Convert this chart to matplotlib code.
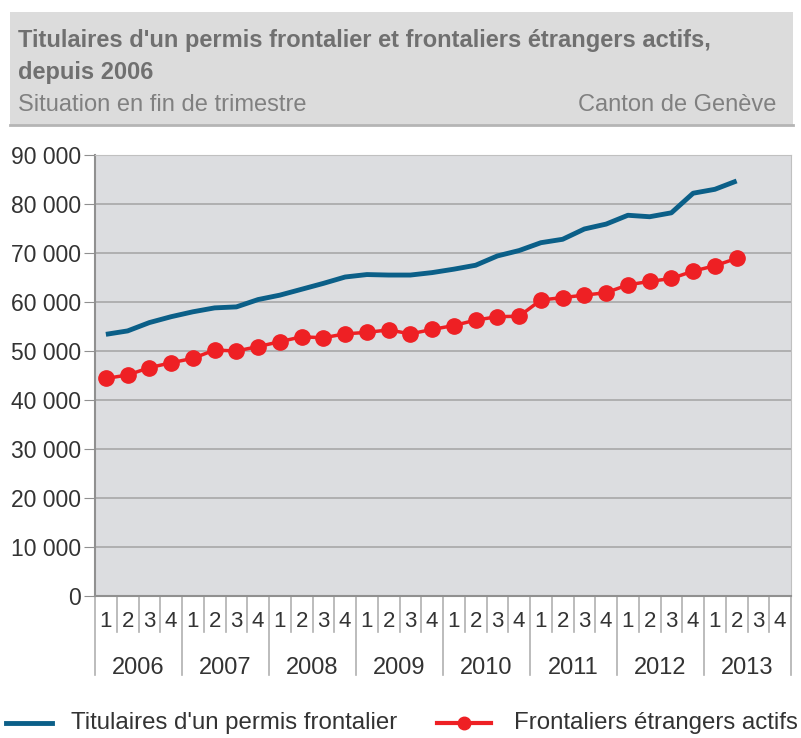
import matplotlib.pyplot as plt
from matplotlib.patches import Rectangle
from matplotlib.lines import Line2D
from matplotlib.transforms import blended_transform_factory

plt.rcParams['font.family'] = ['Liberation Sans', 'DejaVu Sans']

# données
years = ['2006', '2007', '2008', '2009', '2010', '2011', '2012', '2013']
quarters = ['1', '2', '3', '4']

# titulaires d'un permis frontalier (fin de trimestre, 2006 T1 -> 2013 T2)
titulaires = [53400, 54100, 55800, 57000, 58000, 58800, 59000, 60500,
              61400, 62600, 63800, 65100, 65600, 65500, 65500, 66000,
              66700, 67500, 69400, 70500, 72100, 72800, 74900, 75900,
              77700, 77400, 78200, 82200, 83000, 84700]

# frontaliers étrangers actifs
actifs = [44400, 45100, 46600, 47600, 48500, 50200, 50000, 50900,
          51900, 52900, 52700, 53500, 53800, 54300, 53500, 54400,
          55200, 56300, 57000, 57100, 60400, 60900, 61400, 61900,
          63500, 64200, 64800, 66300, 67400, 68900]

blue = '#0b5f88'
red = '#ee2024'
bg = '#dcdde0'

fig = plt.figure(figsize=(8.01, 7.38), dpi=100)

# bandeau titre
fig.patches.append(Rectangle((10/801, 1 - 125/738), 783/801, 113/738,
                             transform=fig.transFigure, facecolor='#dcdcdc',
                             edgecolor='none', zorder=0))
fig.lines.append(Line2D([10/801, 793/801], [1 - 125/738, 1 - 125/738],
                        transform=fig.transFigure, color='#b5b5b5', lw=2))
fig.text(18/801, 1 - 40/738, "Titulaires d'un permis frontalier et frontaliers étrangers actifs,",
         fontsize=17, fontweight='bold', color='#707070', va='center')
fig.text(18/801, 1 - 72/738, "depuis 2006", fontsize=17, fontweight='bold',
         color='#707070', va='center')
fig.text(18/801, 1 - 105/738, "Situation en fin de trimestre", fontsize=17,
         color='#808080', va='center')
fig.text(776/801, 1 - 105/738, "Canton de Genève", fontsize=17,
         color='#808080', va='center', ha='right')

ax = fig.add_axes([95/801, 1 - 596/738, 696/801, 441/738])
ax.set_facecolor(bg)

x = list(range(1, len(titulaires) + 1))
ax.plot(x, titulaires, color=blue, lw=3.5, solid_capstyle='butt', zorder=3)
ax.plot(x, actifs, color=red, lw=2.5, marker='o', markersize=11, zorder=3)

ax.set_xlim(0.5, 32.5)
ax.set_ylim(0, 90000)
ax.set_yticks(range(0, 90001, 10000))
ax.set_yticklabels(['0' if v == 0 else f'{v // 1000} 000' for v in range(0, 90001, 10000)],
                   fontsize=16.5, color='#333333')
ax.yaxis.grid(True, color='#a8a8a8', lw=1.2)
ax.set_axisbelow(True)
ax.tick_params(axis='y', length=8, color='#909090', pad=2)
ax.set_xticks([])

for s in ['top', 'right']:
    ax.spines[s].set_color('#c0c0c0')
for s in ['left', 'bottom']:
    ax.spines[s].set_color('#909090')
    ax.spines[s].set_linewidth(1.5)

# axe des x: trimestres et années
tr = blended_transform_factory(ax.transData, ax.transAxes)
for i, yr in enumerate(years):
    for j, q in enumerate(quarters):
        pos = i * 4 + j + 1
        ax.text(pos, -0.058, q, transform=tr, ha='center', va='center',
                fontsize=16, color='#333333')
        if j > 0:
            ax.plot([pos - 0.5, pos - 0.5], [0, -0.082], transform=tr,
                    color='#b0b0b0', lw=1.2, clip_on=False)
    ax.plot([i * 4 + 0.5, i * 4 + 0.5], [0, -0.18], transform=tr,
            color='#b0b0b0', lw=1.2, clip_on=False)
    ax.text(i * 4 + 2.5, -0.163, yr, transform=tr, ha='center', va='center',
            fontsize=17, color='#333333')
ax.plot([32.5, 32.5], [0, -0.18], transform=tr, color='#b0b0b0', lw=1.2, clip_on=False)

# légende
ly = 1 - 723/738
fig.lines.append(Line2D([6/801, 52/801], [ly, ly], transform=fig.transFigure,
                        color=blue, lw=3.5))
fig.text(71/801, ly, "Titulaires d'un permis frontalier", fontsize=17.3,
         color='#333333', va='center')
fig.lines.append(Line2D([437/801, 491/801], [ly, ly], transform=fig.transFigure,
                        color=red, lw=3))
fig.lines.append(Line2D([464/801], [ly], transform=fig.transFigure,
                        color=red, marker='o', markersize=9))
fig.text(514/801, ly, "Frontaliers étrangers actifs", fontsize=17.3,
         color='#333333', va='center')

plt.savefig('out.png', dpi=100)
